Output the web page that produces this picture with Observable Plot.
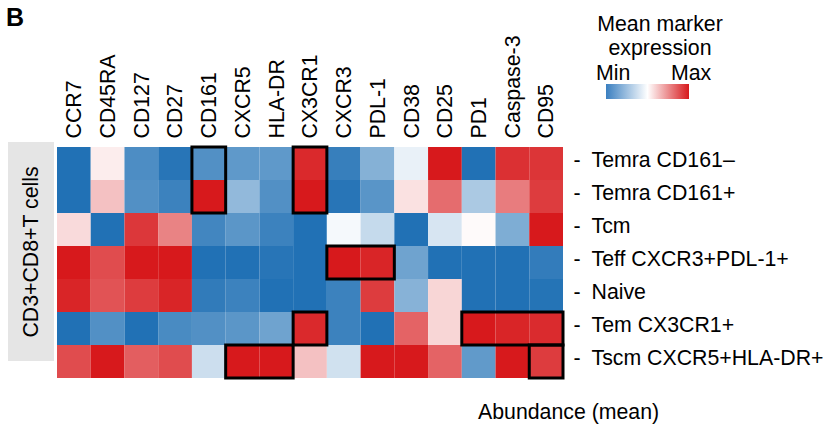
<!DOCTYPE html>
<html><head><meta charset="utf-8">
<script src="https://cdn.jsdelivr.net/npm/d3@7"></script>
<script src="https://cdn.jsdelivr.net/npm/@observablehq/plot@0.6"></script>
<style>
html,body{margin:0;padding:0;background:#fff;}
#wrap{position:relative;width:823px;height:428px;font-family:"Liberation Sans",Arial,Helvetica,sans-serif;color:#000;overflow:hidden;background:#fff}
#wrap svg{position:absolute;left:0;top:0}
.abs{position:absolute;white-space:nowrap;line-height:1;font-size:21.3px}
.leg{line-height:0.8}
</style></head><body><div id="wrap"></div>
<script>
// Columns (markers) and rows (populations)
const markers = ["CCR7","CD45RA","CD127","CD27","CD161","CXCR5","HLA-DR","CX3CR1","CXCR3","PDL-1","CD38","CD25","PD1","Caspase-3","CD95"];
const populations = ["Temra CD161\u2013","Temra CD161+","Tcm","Teff CXCR3+PDL-1+","Naive","Tem CX3CR1+","Tscm CXCR5+HLA-DR+"];

// Scaled mean expression (-1 = min, +1 = max), one array per population
const temraCD161neg = [-1, 0.08, -0.8, -0.97, -0.78, -0.72, -0.72, 0.93, -0.9, -0.55, -0.1, 1.0, -1, 0.9, 0.88];
const temraCD161pos = [-1, 0.27, -0.78, -0.88, 1.0, -0.49, -0.78, 1.0, -0.97, -0.75, 0.13, 0.64, -0.38, 0.57, 0.85];
const tcm           = [0.16, -1, 0.87, 0.54, -0.85, -0.74, -0.88, -1, -0.045, -0.26, -1, -0.18, 0.02, -0.58, 1.0];
const teff          = [1.0, 0.78, 1.0, 1.0, -1, -1, -0.97, -1, 1.0, 0.95, -0.65, -1, -1, -1, -0.92];
const naive         = [0.95, 0.75, 0.85, 0.95, -0.93, -0.88, -1, -1, -0.88, 0.85, -0.54, 0.18, -1, -1, -0.98];
const temCX3CR1     = [-1, -0.78, -1, -0.82, -0.78, -0.74, -0.65, 0.93, -0.88, -1, 0.68, 0.18, 1.0, 0.95, 0.92];
const tscm          = [0.78, 1.0, 0.7, 0.78, -0.23, 1.0, 1.0, 0.27, -0.21, 1.0, 1.0, 0.68, -0.71, 1.0, 0.85];
const rows = [temraCD161neg, temraCD161pos, tcm, teff, naive, temCX3CR1, tscm];

// Highlighted blocks
const boxes = [
  {popFrom:"Temra CD161\u2013", popTo:"Temra CD161+", from:"CD161", to:"CD161"},
  {popFrom:"Temra CD161\u2013", popTo:"Temra CD161+", from:"CX3CR1", to:"CX3CR1"},
  {popFrom:"Teff CXCR3+PDL-1+", popTo:"Teff CXCR3+PDL-1+", from:"CXCR3", to:"PDL-1"},
  {popFrom:"Tem CX3CR1+", popTo:"Tem CX3CR1+", from:"CX3CR1", to:"CX3CR1"},
  {popFrom:"Tem CX3CR1+", popTo:"Tem CX3CR1+", from:"PD1", to:"CD95"},
  {popFrom:"Tscm CXCR5+HLA-DR+", popTo:"Tscm CXCR5+HLA-DR+", from:"CXCR5", to:"HLA-DR"},
  {popFrom:"Tscm CXCR5+HLA-DR+", popTo:"Tscm CXCR5+HLA-DR+", from:"CD95", to:"CD95"}
];

const legendTitle = ["Mean marker", "expression"];
const legendEnds = ["Min", "Max"];
const xTitle = "Abundance (mean)";
const stripLabel = "CD3+CD8+T cells";
const panelLetter = "B";

const BLUE = "#2171b5", WHITE = "#ffffff", RED = "#d7191c";
const xi = new Map(markers.map((m,i)=>[m,i]));
const yi = new Map(populations.map((p,i)=>[p,i]));
const cells = populations.flatMap((p,i)=> markers.map((m,j)=>({pop:p, marker:m, v: rows[i][j]})));
const FS = 21.3;

const chart = Plot.plot({
  width: 823, height: 428,
  marginLeft: 57, marginRight: 260, marginTop: 147, marginBottom: 50,
  style: {fontFamily: '"Liberation Sans", Arial, sans-serif', fontSize: FS + "px", color: "#000", background: "transparent"},
  x: {domain: [0, markers.length], axis: null},
  y: {domain: [0, populations.length], reverse: true, axis: null},
  color: {type: "linear", domain: [-1, 0, 1], range: [BLUE, WHITE, RED], interpolate: "rgb"},
  marks: [
    Plot.rect(cells, {x1: d => xi.get(d.marker), x2: d => xi.get(d.marker) + 1, y1: d => yi.get(d.pop), y2: d => yi.get(d.pop) + 1, fill: "v"}),
    Plot.rect(boxes, {x1: d => xi.get(d.from), x2: d => xi.get(d.to) + 1, y1: d => yi.get(d.popFrom), y2: d => yi.get(d.popTo) + 1, fill: "none", stroke: "#000", strokeWidth: 3}),
    Plot.axisX(markers.map((m,i)=> i + 0.5), {anchor: "top", tickSize: 0, tickPadding: 9, tickRotate: -90, tickFormat: d => markers[Math.floor(d)], fontSize: FS, label: null}),
    Plot.text(populations, {x: markers.length, y: (d,i) => i + 0.5, text: () => "-", dx: 10, dy: -4, textAnchor: "start", fontSize: FS}),
    Plot.text(populations, {x: markers.length, y: (d,i) => i + 0.5, text: d => d, dx: 28, dy: -4, textAnchor: "start", fontSize: FS})
  ]
});
const wrap = document.getElementById("wrap");
wrap.appendChild(chart);

function addDiv(text, css, cls){ const d = document.createElement("div"); d.className = "abs" + (cls ? " " + cls : ""); d.textContent = text; Object.assign(d.style, css); wrap.appendChild(d); return d; }

// Panel letter
addDiv(panelLetter, {left: "6px", top: "5px", fontSize: "25px", fontWeight: "bold"});
// Gray strip with rotated label
const strip = document.createElement("div");
Object.assign(strip.style, {position: "absolute", left: "8px", top: "142px", width: "46px", height: "219px", background: "#e5e5e5"});
wrap.appendChild(strip);
const sl = document.createElement("div");
sl.className = "abs"; sl.textContent = stripLabel;
Object.assign(sl.style, {left: "24px", top: "110px", transform: "translate(-50%,-50%) rotate(-90deg)"});
strip.appendChild(sl);
// Legend
addDiv(legendTitle[0], {left: "660px", top: "16px", transform: "translateX(-50%)"}, "leg");
addDiv(legendTitle[1], {left: "660px", top: "40px", transform: "translateX(-50%)"}, "leg");
addDiv(legendEnds[0], {left: "596px", top: "65px"}, "leg");
addDiv(legendEnds[1], {left: "671px", top: "65px"}, "leg");
const bar = document.createElement("div");
Object.assign(bar.style, {position: "absolute", left: "606px", top: "84px", width: "83px", height: "15px", background: `linear-gradient(to right, #3a7fc0, ${WHITE} 50%, ${RED})`});
wrap.appendChild(bar);
// Bottom title
addDiv(xTitle, {left: "478px", top: "402px"});
</script></body></html>
